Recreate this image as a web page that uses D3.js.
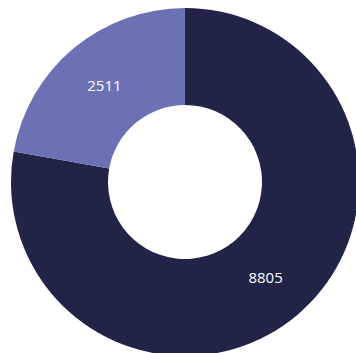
<!DOCTYPE html>
<html>
<head>
<meta charset="utf-8">
<script src="https://cdn.jsdelivr.net/npm/d3@7"></script>
<style>
  html, body { margin: 0; padding: 0; background: #ffffff; }
  svg { display: block; }
</style>
</head>
<body>
<svg id="chart" width="356" height="353"></svg>
<script>
// Segment data
const categories = ["A", "B"];
const values = [8805, 2511];
const colors = ["#212347", "#6c71b5"];

const svg = d3.select("#chart");
const cx = 185, cy = 182;
const outerR = 174, innerR = 77;

const data = categories.map((c, i) => ({ name: c, value: values[i], color: colors[i] }));

const pie = d3.pie()
  .value(d => d.value)
  .sort(null);

const arc = d3.arc()
  .innerRadius(innerR)
  .outerRadius(outerR);

const g = svg.append("g").attr("transform", `translate(${cx},${cy})`);

const arcs = pie(data);

g.selectAll("path.slice")
  .data(arcs)
  .join("path")
  .attr("class", "slice")
  .attr("d", arc)
  .attr("fill", d => d.data.color);

g.selectAll("text.value")
  .data(arcs)
  .join("text")
  .attr("class", "value")
  .attr("transform", d => `translate(${arc.centroid(d)})`)
  .attr("text-anchor", "middle")
  .attr("dy", "0.35em")
  .attr("fill", "#ffffff")
  .style("font-family", "'Open Sans', sans-serif")
  .style("font-size", "15px")
  .text(d => d.data.value);
</script>
</body>
</html>
